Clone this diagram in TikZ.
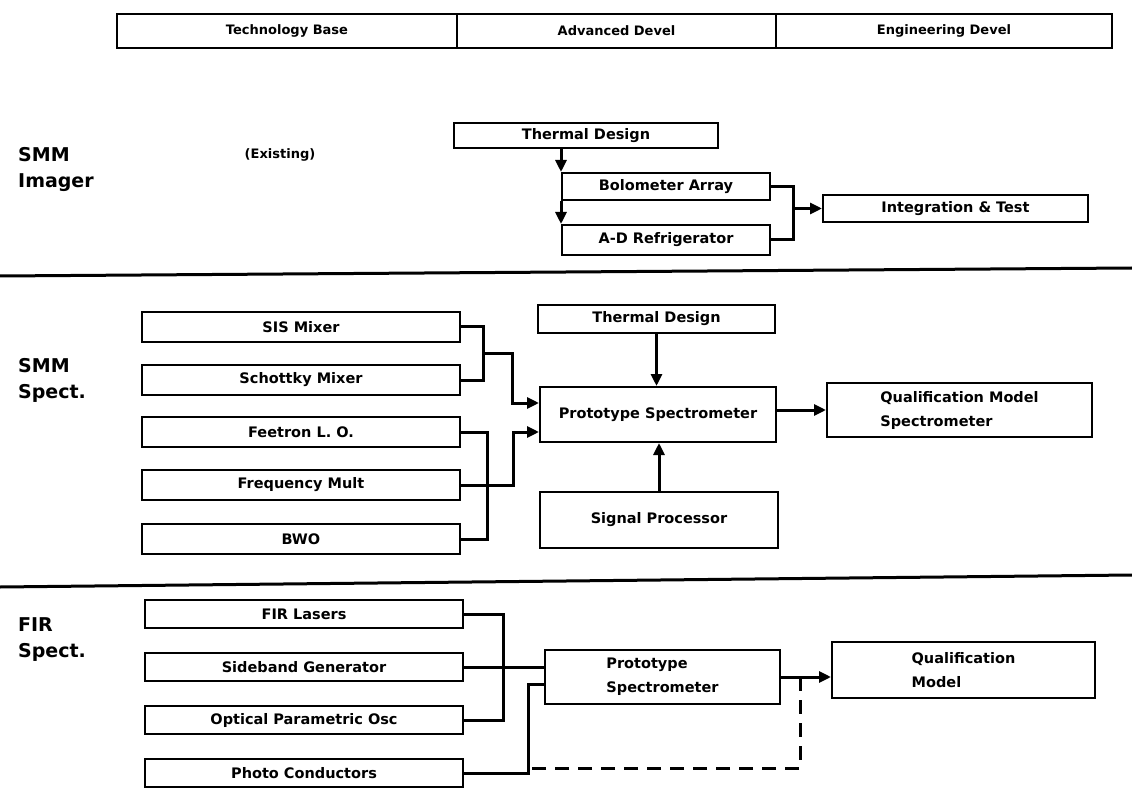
\documentclass[tikz,border=0pt]{standalone}
\usepackage{fontspec}
\setmainfont{DejaVu Sans}
\usetikzlibrary{arrows.meta}

\begin{document}
\begin{tikzpicture}[x=1pt,y=-1pt,
  box/.style={draw,line width=2pt,inner sep=0pt,font=\fontsize{14.5}{24}\selectfont\bfseries},
  lab/.style={anchor=west,align=left,inner sep=0pt,font=\fontsize{19}{26}\selectfont\bfseries},
  wire/.style={line width=3pt},
  flow/.style={wire,-{Triangle[length=12pt,width=11pt]}}]
\useasboundingbox (0,0) rectangle (1132,791);
% phases
\foreach \n/\cx/\w/\t in {tb/287/340/Technology Base,ad/616.5/319/Advanced Devel,ed/944/336/Engineering Devel}{\node[box,minimum width=\w,minimum height=34,font=\fontsize{13}{15}\selectfont\bfseries] (\n) at (\cx,31){\t};}
% SMM imager
\node[lab] (smmI) at (18,170){SMM\\Imager};
\node[font=\fontsize{13}{15}\selectfont\bfseries] (exist) at (280,155){(Existing)};
\node[box,minimum width=264,minimum height=25] (thermI) at (586,135.5){Thermal Design};
\node[box,minimum width=208,minimum height=27] (bolo) at (666,186.5){Bolometer Array};
\node[box,minimum width=208,minimum height=30] (adref) at (666,240){A-D Refrigerator};
\node[box,minimum width=265,minimum height=27] (integ) at (955.5,208.5){Integration \& Test};
\coordinate (jI) at (793,208.5);
\draw[flow] (bolo.north west |- thermI.south)--(bolo.north west);\draw[flow] (bolo.south west)--(adref.north west);
\draw[wire] (bolo.east) -| (jI) |- (adref.east);\draw[flow] (jI)--(integ.west);
\draw[wire] (0,276)--(1132,268);
% SMM spectrometer
\node[lab] (smmS) at (18,380){SMM\\Spect.};
\foreach \n/\y/\t in {sis/327/SIS Mixer,scho/380/Schottky Mixer,feet/432/Feetron L. O.,freq/485/Frequency Mult,bwo/539/BWO}{\node[box,minimum width=318,minimum height=30] (\n) at (301,\y){\t};}
\node[box,minimum width=237,minimum height=28] (thermS) at (656.5,319){Thermal Design};
\node[box,minimum width=236,minimum height=55] (proto) at (658,414.5){Prototype Spectrometer};
\node[box,minimum width=238,minimum height=56] (sigp) at (659,520){Signal Processor};
\node[box,minimum width=265,minimum height=54,align=left] (qms) at (959.5,410){Qualification Model\\Spectrometer};
\coordinate (jA) at (483,354);\coordinate (jB) at (512,403);\coordinate (jC) at (487,485);\coordinate (jD) at (513,432);
\draw[wire] (sis.east) -| (jA) |- (scho.east);\draw[flow] (jA) -| (jB)--(jB -| proto.west);
\draw[wire] (feet.east) -| (jC) |- (bwo.east);\draw[flow] (freq.east) -| (jD)--(jD -| proto.west);
\draw[flow] (thermS.south)--(thermS.south |- proto.north);\draw[flow] (sigp.north)--(sigp.north |- proto.south);
\draw[flow] (proto.east |- qms.west)--(qms.west);
\draw[wire] (0,587)--(1132,575);
% FIR spectrometer
\node[lab] (firS) at (18,640){FIR\\Spect.};
\foreach \n/\y/\t in {firl/614/FIR Lasers,side/667/Sideband Generator,opo/720/Optical Parametric Osc,phot/773/Photo Conductors}{\node[box,minimum width=318,minimum height=28] (\n) at (304,\y){\t};}
\node[box,minimum width=235,minimum height=54,align=left] (protoF) at (662.5,677){Prototype\\Spectrometer};
\node[box,minimum width=263,minimum height=56,align=left] (qmF) at (963.5,670){Qualification\\Model};
\coordinate (jE) at (503,667);\coordinate (jF) at (528,684);\coordinate (jG) at (800,677);\coordinate (jH) at (800,768);
\draw[wire] (firl.east) -| (jE) |- (opo.east);\draw[wire] (side.east)--(side.east -| protoF.west);
\draw[wire] (phot.east) -| (jF)--(jF -| protoF.west);
\draw[flow] (protoF.east)--(protoF.east -| qmF.west);
\draw[wire,dash pattern=on 14pt off 9pt] (jG)--(jH)--(jH -| jF);
\end{tikzpicture}
\end{document}
